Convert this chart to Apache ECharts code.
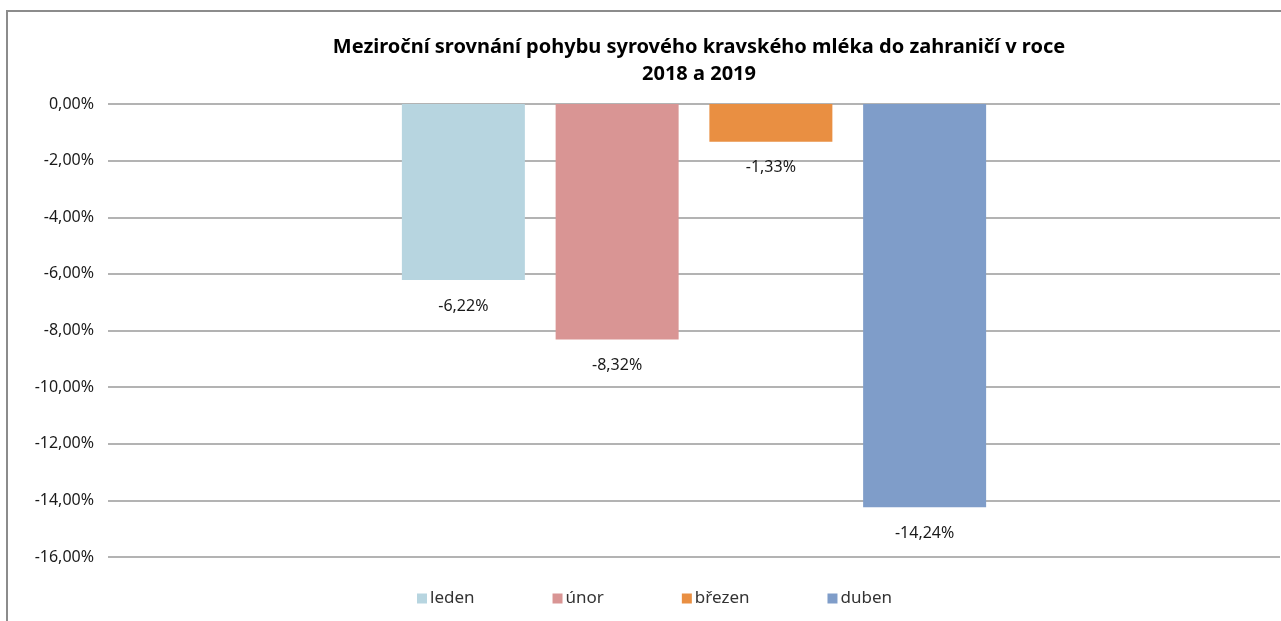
<!DOCTYPE html>
<html>
<head>
<meta charset="utf-8">
<script src="https://cdn.jsdelivr.net/npm/echarts@6/dist/echarts.min.js"></script>
<style>
  html, body { margin: 0; padding: 0; background: #fff; }
  #frame { position: absolute; left: 6px; top: 10px; width: 1290px; height: 640px;
           border-left: 2px solid #8c8c8c; border-top: 2px solid #8c8c8c; }
  #chart { position: absolute; left: 0; top: 0; width: 1281px; height: 621px; }
</style>
</head>
<body>
<div id="frame"></div>
<div id="chart"></div>
<script>
// data
const months = ['leden', 'únor', 'březen', 'duben']
const changes = [-6.22, -8.32, -1.33, -14.24]   // meziroční změna v %
const colors = ['#b7d5e0', '#d99594', '#e98f42', '#7f9dc9']

const fmt = v => v.toFixed(2).replace('.', ',') + '%'
const font = '"Noto Sans", sans-serif'

let myChart = echarts.init(document.getElementById('chart'))

const series = months.map((m, i) => ({
  name: m,
  type: 'bar',
  data: [changes[i]],
  barWidth: 123,
  barGap: '25%',
  itemStyle: { color: colors[i] },
  label: {
    show: true,
    position: 'bottom',
    distance: 18,
    color: '#1a1a1a',
    fontFamily: font,
    fontSize: 16,
    formatter: p => fmt(p.value)
  }
}))

myChart.setOption({
  animation: false,
  title: {
    text: 'Meziroční srovnání pohybu syrového kravského mléka do zahraničí v roce\n2018 a 2019',
    left: 694,
    textAlign: 'center',
    top: 29,
    textStyle: { fontFamily: font, fontWeight: 'bold', fontSize: 20, lineHeight: 27, color: '#000' }
  },
  legend: {
    bottom: 9,
    left: 412,
    itemWidth: 10,
    itemHeight: 10,
    itemGap: 78,
    icon: 'rect',
    textStyle: { fontFamily: font, fontSize: 17, color: '#333', padding: [0, 0, 0, -2] },
    data: months
  },
  grid: { left: 108, right: 1, top: 104, bottom: 64, containLabel: false },
  xAxis: {
    type: 'category',
    data: [''],
    axisLine: { show: false },
    axisTick: { show: false },
    axisLabel: { show: false }
  },
  yAxis: {
    type: 'value',
    min: -16,
    max: 0,
    interval: 2,
    axisLine: { show: false },
    axisTick: { show: false },
    axisLabel: { formatter: v => fmt(v), fontFamily: font, fontSize: 16, color: '#1a1a1a', margin: 14 },
    splitLine: { lineStyle: { color: '#b3b3b3', width: 2 } }
  },
  series: series
})
</script>
</body>
</html>
